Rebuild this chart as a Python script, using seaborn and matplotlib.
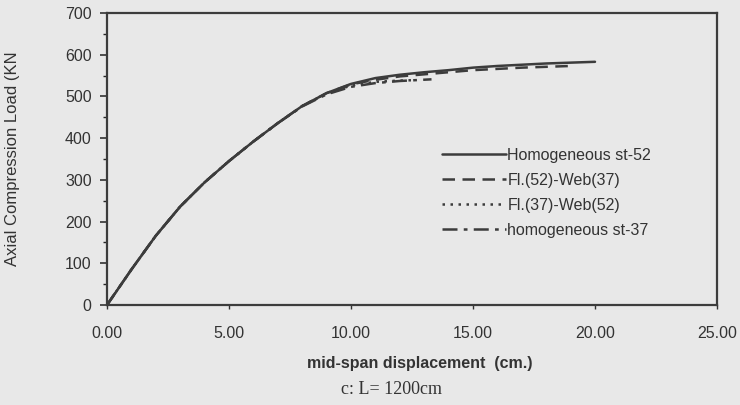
import numpy as np
import pandas as pd
import matplotlib
matplotlib.use("Agg")
import matplotlib.pyplot as plt
import seaborn as sns

# ---- data ----
x_st52 = [0, 1, 2, 3, 4, 5, 6, 7, 8, 9, 10, 11, 12, 13, 14, 15, 16, 17, 18, 19, 20]
y_st52 = [0, 85, 166, 236, 294, 345, 392, 436, 477, 508, 530, 544, 552, 558, 563, 569, 573, 576, 579, 581, 583]

x_f52w37 = [0, 1, 2, 3, 4, 5, 6, 7, 8, 9, 10, 11, 12, 13, 14, 15, 16, 17, 18, 19]
y_f52w37 = [0, 85, 166, 236, 294, 345, 392, 436, 477, 508, 529, 540, 548, 553, 558, 563, 566, 569, 571, 573]

x_f37w52 = [0, 1, 2, 3, 4, 5, 6, 7, 8, 9, 10, 11, 12, 12.6]
y_f37w52 = [0, 85, 166, 236, 294, 345, 392, 436, 477, 507, 526, 535, 538, 539]

x_st37 = [0, 1, 2, 3, 4, 5, 6, 7, 8, 9, 10, 11, 12, 13.3]
y_st37 = [0, 85, 166, 236, 294, 345, 392, 436, 476, 505, 523, 532, 537, 541]

labels = ["Homogeneous st-52", "Fl.(52)-Web(37)", "Fl.(37)-Web(52)", "homogeneous st-37"]
x_ticks = [0, 5, 10, 15, 20, 25]
y_ticks = [0, 100, 200, 300, 400, 500, 600, 700]

sns.set_theme(style="white")
plt.rcParams['font.family'] = ['Liberation Sans', 'DejaVu Sans']

bg = '#e8e8e8'
ink = '#333333'
line_c = '#3c3c3c'

fig = plt.figure(figsize=(7.4, 4.05), dpi=100, facecolor=bg)
ax = fig.add_axes([107/740, 1 - 305/405, 610/740, 292/405])
ax.set_facecolor(bg)

series = [
    (x_st52, y_st52, labels[0], (None, None)),
    (x_f52w37, y_f52w37, labels[1], (5, 3)),
    (x_f37w52, y_f37w52, labels[2], (1, 2.2)),
    (x_st37, y_st37, labels[3], (6, 2.5, 1.5, 2.5)),
]
for xs, ys, lab, dash in series:
    df = pd.DataFrame({"x": xs, "y": ys})
    sns.lineplot(data=df, x="x", y="y", ax=ax, color=line_c, lw=1.8, label=lab, sort=False)
    ln = ax.lines[-1]
    if dash[0] is not None:
        ln.set_dashes(dash)

ax.set_xlim(0, 25)
ax.set_ylim(0, 700)
ax.set_xticks(x_ticks)
ax.set_xticklabels([f"{v:.2f}" for v in x_ticks])
ax.set_yticks(y_ticks)
ax.set_yticks([50, 150, 250, 350, 450, 550, 650], minor=True)
ax.tick_params(axis='both', labelsize=11.5, colors=ink, labelcolor=ink)
ax.tick_params(axis='y', which='major', direction='out', length=5, width=1.2, left=True, pad=6)
ax.tick_params(axis='y', which='minor', direction='out', length=3, width=1.0, left=True)
ax.tick_params(axis='x', which='major', direction='out', length=3, width=1.0, bottom=True, pad=12)

for s in ax.spines.values():
    s.set_visible(True)
    s.set_color(line_c)
    s.set_linewidth(1.6)

ax.set_ylabel("Axial Compression Load (KN", fontsize=12, color=ink)
ax.yaxis.set_label_coords(-0.143, 0.5)
ax.set_xlabel("mid-span displacement  (cm.)", fontsize=11.5, color=ink, fontweight='bold')
ax.xaxis.set_label_coords(0.513, -0.175)

fig.text(391/740, 1 - 390/405, "c: L= 1200cm", fontsize=13, color=ink,
         ha='center', va='center', family=['Liberation Serif', 'DejaVu Serif'])

leg = ax.legend(loc='upper left', bbox_to_anchor=(434/740, 1 - 140/405),
                bbox_transform=fig.transFigure, frameon=False, fontsize=11.5,
                handlelength=4.0, handletextpad=0.1, labelspacing=0.62, borderpad=0)
for t in leg.get_texts():
    t.set_color(ink)

fig.savefig("out.png", dpi=100, facecolor=bg)
